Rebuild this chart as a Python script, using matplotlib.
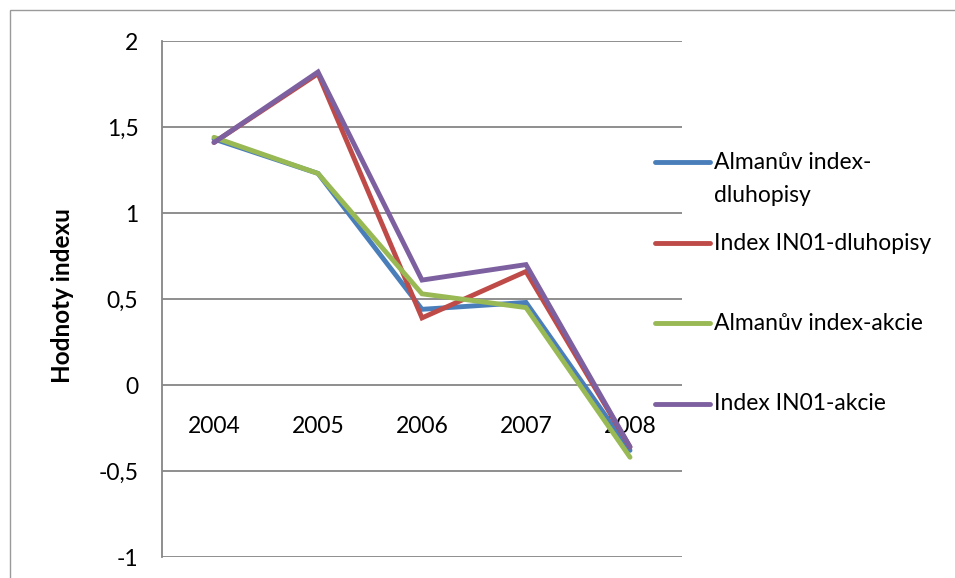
import matplotlib.pyplot as plt
from matplotlib.lines import Line2D
from matplotlib.patches import Rectangle

plt.rcParams['font.family'] = ['Lato', 'DejaVu Sans']

years = ['2004', '2005', '2006', '2007', '2008']
almanuv_dluhopisy = [1.43, 1.23, 0.44, 0.48, -0.38]
in01_dluhopisy = [1.41, 1.81, 0.39, 0.66, -0.36]
almanuv_akcie = [1.44, 1.23, 0.53, 0.45, -0.42]
in01_akcie = [1.41, 1.82, 0.61, 0.70, -0.36]

series = [
    ('Almanův index-\ndluhopisy', almanuv_dluhopisy, '#4a7ebb'),
    ('Index IN01-dluhopisy', in01_dluhopisy, '#be4b48'),
    ('Almanův index-akcie', almanuv_akcie, '#98b954'),
    ('Index IN01-akcie', in01_akcie, '#7d60a0'),
]

FS = 16.5
LW = 3.5
W, H = 955, 578
fig = plt.figure(figsize=(W / 100, H / 100), dpi=100)

# outer chart border
fig.patches.append(Rectangle((10 / W, -0.1), 1.2, 1.1 - 10 / H, transform=fig.transFigure,
                             fill=False, edgecolor='#9a9a9a', linewidth=1.0))

ax = fig.add_axes([162 / W, (H - 557) / H, 520 / W, 516 / H])
x = range(len(years))
for label, vals, color in series:
    ax.plot(x, vals, color=color, linewidth=LW, solid_capstyle='round',
            solid_joinstyle='miter', zorder=3)

# category axis crosses at zero
ax.spines['bottom'].set_position(('data', 0))
ax.spines['bottom'].set_visible(False)
ax.spines['top'].set_visible(False)
ax.spines['right'].set_visible(False)
ax.spines['left'].set_color('#868686')
ax.spines['left'].set_linewidth(1.3)

ax.set_xlim(-0.5, len(years) - 0.5)
ax.set_ylim(-1, 2)
yt = [-1, -0.5, 0, 0.5, 1, 1.5, 2]
ax.set_yticks(yt)
ax.set_yticklabels([('%g' % v).replace('.', ',') for v in yt])
for v in yt:
    ax.axhline(v, color='#868686', linewidth=1.3, zorder=1)

ax.set_xticks(list(x))
ax.set_xticklabels(years)
ax.tick_params(axis='x', length=0, pad=22, labelsize=FS)
ax.tick_params(axis='y', length=0, pad=17, labelsize=FS)

fig.text(62 / W, 1 - 296 / H, 'Hodnoty indexu', rotation=90, fontsize=17.5,
         fontweight='bold', ha='center', va='center')

# legend keys
handle_y = [162, 243, 323, 404]
for (label, vals, color), hy in zip(series, handle_y):
    fig.lines.append(Line2D([655 / W, 710 / W], [1 - hy / H, 1 - hy / H],
                            transform=fig.transFigure, color=color, linewidth=LW,
                            solid_capstyle='round'))
    lines = label.split('\n')
    for i, part in enumerate(lines):
        fig.text(714 / W, 1 - (hy + 33 * i) / H, part, fontsize=FS,
                 ha='left', va='center')

fig.savefig('out.png', dpi=100)
plt.close(fig)
